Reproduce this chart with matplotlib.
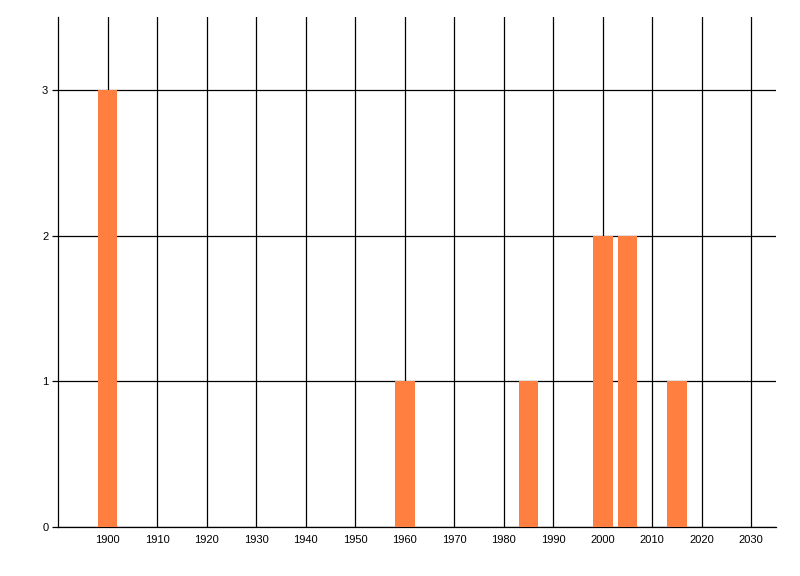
import matplotlib.pyplot as plt

# data
years = [1900, 1960, 1985, 2000, 2005, 2015]
counts = [3, 1, 1, 2, 2, 1]
x_ticks = list(range(1900, 2031, 10))
y_ticks = [0, 1, 2, 3]

plt.rcParams['font.family'] = ['Liberation Sans', 'DejaVu Sans']

fig = plt.figure(figsize=(8, 5.76), dpi=100)
ax = fig.add_axes([58 / 800, 49 / 576, 718 / 800, 510 / 576])

ax.bar(years, counts, width=4, color='#ff7f40', zorder=3)

ax.set_xlim(1890, 2035)
ax.set_ylim(0, 3.5)
ax.set_xticks(x_ticks)
ax.set_yticks(y_ticks)
ax.grid(True, color='black', linewidth=0.9, zorder=0)
ax.set_axisbelow(True)

ax.tick_params(axis='x', length=0, pad=6, labelsize=8)
ax.tick_params(axis='y', length=4, width=0.9, pad=3, labelsize=8)

for side in ['top', 'right']:
    ax.spines[side].set_visible(False)
for side in ['left', 'bottom']:
    ax.spines[side].set_linewidth(0.9)

fig.savefig('out.png', dpi=100)
